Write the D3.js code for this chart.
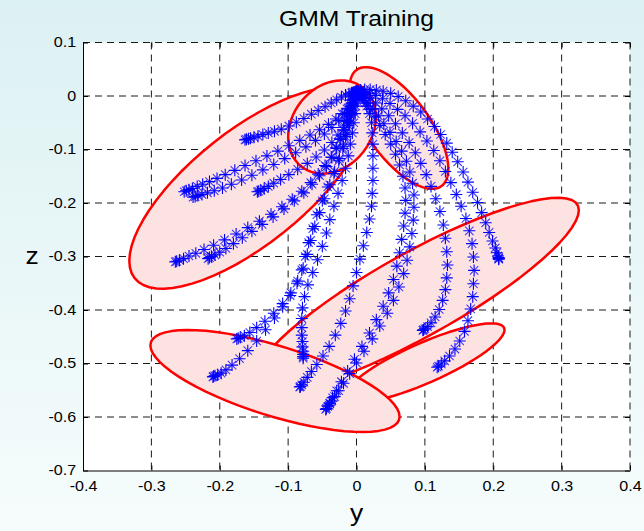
<!DOCTYPE html>
<html>
<head>
<meta charset="utf-8">
<script src="https://cdn.jsdelivr.net/npm/d3@7"></script>
<style>
  html, body { margin: 0; padding: 0; }
  svg { display: block; }
</style>
</head>
<body>
<svg id="chart" width="644" height="531"></svg>
<script>
// ---- axis ticks ----
const yTicks = [-0.4, -0.3, -0.2, -0.1, 0, 0.1, 0.2, 0.3, 0.4];
const yTickLabels = ["-0.4", "-0.3", "-0.2", "-0.1", "0", "0.1", "0.2", "0.3", "0.4"];
const zTicks = [0.1, 0, -0.1, -0.2, -0.3, -0.4, -0.5, -0.6, -0.7];
const zTickLabels = ["0.1", "0", "-0.1", "-0.2", "-0.3", "-0.4", "-0.5", "-0.6", "-0.7"];

// ---- GMM components: means and covariances (y, z) ----
const compY   = [-0.1587, 0.0622, -0.0358, 0.0995, 0.0870, -0.1192];
const compZ   = [-0.1720, -0.0598, -0.0580, -0.4990, -0.3720, -0.5327];
const sigmaYY = [0.03012, 0.005202, 0.004115, 0.013688, 0.05673, 0.03321];
const sigmaZZ = [0.03542, 0.012964, 0.007600, 0.005473, 0.03306, 0.009088];
const sigmaYZ = [0.02364, -0.005499, 0.001181, 0.007233, 0.03774, -0.012127];

// ---- demonstration trajectories (y, z) ----
const trajL1 = [[-0.002,0.008],[-0.004,0.007],[-0.007,0.006],[-0.011,0.004],[-0.016,0.002],[-0.022,-0.002],[-0.029,-0.007],[-0.037,-0.013],[-0.046,-0.020],[-0.056,-0.027],[-0.066,-0.034],[-0.077,-0.042],[-0.088,-0.049],[-0.099,-0.056],[-0.110,-0.062],[-0.120,-0.066],[-0.129,-0.069],[-0.137,-0.072],[-0.144,-0.075],[-0.150,-0.077],[-0.155,-0.079],[-0.158,-0.080],[-0.161,-0.081],[-0.163,-0.082]];
const trajL2 = [[-0.001,0.008],[-0.002,0.006],[-0.003,0.003],[-0.004,-0.001],[-0.006,-0.007],[-0.009,-0.015],[-0.014,-0.024],[-0.021,-0.033],[-0.030,-0.043],[-0.041,-0.053],[-0.054,-0.063],[-0.068,-0.073],[-0.083,-0.083],[-0.099,-0.093],[-0.115,-0.103],[-0.131,-0.112],[-0.147,-0.121],[-0.163,-0.130],[-0.178,-0.139],[-0.192,-0.147],[-0.204,-0.154],[-0.215,-0.160],[-0.225,-0.165],[-0.233,-0.169],[-0.240,-0.173],[-0.245,-0.175],[-0.249,-0.177],[-0.252,-0.179]];
const trajL3 = [[0.000,0.008],[-0.001,0.005],[-0.002,0.001],[-0.004,-0.005],[-0.007,-0.013],[-0.012,-0.023],[-0.018,-0.034],[-0.026,-0.046],[-0.036,-0.059],[-0.047,-0.071],[-0.060,-0.083],[-0.074,-0.095],[-0.089,-0.106],[-0.105,-0.117],[-0.121,-0.128],[-0.137,-0.138],[-0.153,-0.148],[-0.168,-0.157],[-0.183,-0.165],[-0.196,-0.172],[-0.208,-0.177],[-0.218,-0.181],[-0.226,-0.184],[-0.232,-0.186],[-0.236,-0.188],[-0.239,-0.189]];
const trajL4 = [[0.001,0.007],[0.000,0.004],[-0.001,-0.001],[-0.003,-0.009],[-0.005,-0.019],[-0.008,-0.031],[-0.013,-0.045],[-0.019,-0.059],[-0.027,-0.073],[-0.036,-0.087],[-0.047,-0.101],[-0.059,-0.114],[-0.072,-0.126],[-0.086,-0.137],[-0.099,-0.147],[-0.111,-0.156],[-0.121,-0.163],[-0.129,-0.169],[-0.135,-0.173],[-0.140,-0.176],[-0.143,-0.178],[-0.145,-0.179]];
const trajL5 = [[-0.001,0.008],[-0.002,0.005],[-0.003,0.000],[-0.005,-0.008],[-0.008,-0.019],[-0.011,-0.032],[-0.015,-0.047],[-0.019,-0.063],[-0.024,-0.080],[-0.030,-0.097],[-0.037,-0.114],[-0.046,-0.130],[-0.056,-0.146],[-0.067,-0.162],[-0.080,-0.178],[-0.094,-0.193],[-0.109,-0.207],[-0.125,-0.221],[-0.142,-0.234],[-0.159,-0.246],[-0.176,-0.258],[-0.193,-0.269],[-0.209,-0.279],[-0.223,-0.287],[-0.235,-0.294],[-0.245,-0.299],[-0.253,-0.304],[-0.259,-0.307],[-0.263,-0.309],[-0.265,-0.310]];
const trajL6 = [[0.000,0.007],[-0.001,0.004],[-0.002,-0.001],[-0.004,-0.009],[-0.007,-0.020],[-0.010,-0.033],[-0.014,-0.048],[-0.018,-0.064],[-0.023,-0.081],[-0.029,-0.098],[-0.036,-0.115],[-0.044,-0.132],[-0.054,-0.149],[-0.065,-0.165],[-0.077,-0.181],[-0.091,-0.196],[-0.106,-0.211],[-0.122,-0.226],[-0.138,-0.240],[-0.153,-0.253],[-0.167,-0.265],[-0.180,-0.276],[-0.191,-0.285],[-0.200,-0.292],[-0.207,-0.297],[-0.212,-0.300],[-0.215,-0.302],[-0.217,-0.304]];
const trajC1 = [[-0.001,0.008],[-0.002,0.005],[-0.003,0.000],[-0.004,-0.008],[-0.006,-0.020],[-0.009,-0.036],[-0.012,-0.055],[-0.016,-0.076],[-0.020,-0.098],[-0.026,-0.121],[-0.033,-0.145],[-0.042,-0.170],[-0.050,-0.196],[-0.058,-0.222],[-0.064,-0.248],[-0.070,-0.274],[-0.075,-0.300],[-0.080,-0.325],[-0.087,-0.350],[-0.097,-0.373],[-0.108,-0.394],[-0.120,-0.415],[-0.133,-0.437],[-0.146,-0.458],[-0.159,-0.476],[-0.171,-0.491],[-0.182,-0.503],[-0.191,-0.512],[-0.198,-0.518],[-0.203,-0.521],[-0.207,-0.523],[-0.209,-0.524],[-0.210,-0.525]];
const trajC2 = [[0.000,0.008],[-0.001,0.005],[-0.002,0.000],[-0.003,-0.008],[-0.005,-0.019],[-0.007,-0.034],[-0.010,-0.052],[-0.014,-0.072],[-0.019,-0.094],[-0.025,-0.117],[-0.032,-0.141],[-0.039,-0.166],[-0.047,-0.192],[-0.054,-0.218],[-0.061,-0.244],[-0.067,-0.270],[-0.072,-0.296],[-0.078,-0.322],[-0.086,-0.346],[-0.096,-0.368],[-0.108,-0.388],[-0.121,-0.406],[-0.134,-0.421],[-0.146,-0.433],[-0.156,-0.442],[-0.164,-0.448],[-0.170,-0.451],[-0.173,-0.453],[-0.175,-0.454]];
const trajC3 = [[0.001,0.008],[0.001,0.005],[0.000,0.000],[0.000,-0.008],[-0.001,-0.019],[-0.002,-0.033],[-0.004,-0.050],[-0.006,-0.069],[-0.009,-0.090],[-0.012,-0.112],[-0.016,-0.135],[-0.021,-0.158],[-0.027,-0.182],[-0.033,-0.206],[-0.039,-0.231],[-0.044,-0.256],[-0.050,-0.281],[-0.057,-0.306],[-0.064,-0.330],[-0.071,-0.353],[-0.076,-0.375],[-0.079,-0.396],[-0.080,-0.416],[-0.080,-0.433],[-0.080,-0.447],[-0.079,-0.459],[-0.079,-0.469],[-0.078,-0.477],[-0.078,-0.483],[-0.078,-0.487],[-0.078,-0.490]];
const trajC4 = [[0.002,0.008],[0.004,0.005],[0.007,0.000],[0.011,-0.008],[0.015,-0.019],[0.019,-0.033],[0.022,-0.050],[0.023,-0.069],[0.024,-0.090],[0.024,-0.112],[0.024,-0.135],[0.024,-0.158],[0.023,-0.182],[0.022,-0.206],[0.019,-0.230],[0.015,-0.255],[0.010,-0.280],[0.005,-0.305],[0.000,-0.330],[-0.005,-0.355],[-0.010,-0.379],[-0.016,-0.402],[-0.023,-0.425],[-0.031,-0.447],[-0.040,-0.468],[-0.049,-0.486],[-0.058,-0.502],[-0.066,-0.515],[-0.072,-0.526],[-0.077,-0.535],[-0.080,-0.540],[-0.082,-0.543],[-0.083,-0.544]];
const trajC5 = [[0.000,0.008],[0.002,0.006],[0.005,0.002],[0.009,-0.004],[0.014,-0.013],[0.020,-0.025],[0.027,-0.039],[0.034,-0.055],[0.042,-0.072],[0.050,-0.090],[0.057,-0.109],[0.063,-0.129],[0.068,-0.150],[0.071,-0.172],[0.072,-0.195],[0.071,-0.219],[0.069,-0.243],[0.066,-0.268],[0.063,-0.293],[0.059,-0.318],[0.054,-0.343],[0.047,-0.368],[0.039,-0.393],[0.029,-0.418],[0.019,-0.443],[0.008,-0.468],[-0.003,-0.492],[-0.013,-0.514],[-0.022,-0.534],[-0.029,-0.551],[-0.035,-0.564],[-0.039,-0.574],[-0.042,-0.580],[-0.044,-0.584],[-0.045,-0.586]];
const trajC6 = [[0.001,0.008],[0.003,0.006],[0.006,0.002],[0.011,-0.004],[0.017,-0.013],[0.024,-0.024],[0.032,-0.037],[0.040,-0.052],[0.049,-0.068],[0.058,-0.085],[0.066,-0.103],[0.073,-0.122],[0.078,-0.142],[0.082,-0.163],[0.084,-0.185],[0.084,-0.208],[0.083,-0.232],[0.081,-0.257],[0.078,-0.282],[0.074,-0.307],[0.069,-0.332],[0.062,-0.357],[0.054,-0.382],[0.045,-0.406],[0.034,-0.430],[0.023,-0.454],[0.011,-0.477],[0.000,-0.499],[-0.010,-0.519],[-0.019,-0.537],[-0.026,-0.551],[-0.032,-0.562],[-0.036,-0.570],[-0.039,-0.575],[-0.040,-0.578]];
const trajR1 = [[0.000,0.009],[0.003,0.008],[0.007,0.006],[0.013,0.002],[0.020,-0.004],[0.028,-0.013],[0.037,-0.024],[0.047,-0.037],[0.057,-0.052],[0.067,-0.069],[0.077,-0.087],[0.086,-0.106],[0.094,-0.126],[0.102,-0.147],[0.109,-0.169],[0.116,-0.192],[0.122,-0.216],[0.127,-0.241],[0.130,-0.266],[0.132,-0.291],[0.133,-0.316],[0.132,-0.340],[0.130,-0.362],[0.126,-0.382],[0.121,-0.399],[0.115,-0.413],[0.109,-0.424],[0.104,-0.431],[0.100,-0.435],[0.098,-0.437],[0.097,-0.438]];
const trajR2 = [[0.001,0.009],[0.005,0.009],[0.011,0.008],[0.019,0.005],[0.028,0.001],[0.038,-0.005],[0.049,-0.014],[0.060,-0.025],[0.071,-0.037],[0.082,-0.051],[0.093,-0.067],[0.103,-0.084],[0.113,-0.102],[0.122,-0.121],[0.130,-0.141],[0.138,-0.162],[0.146,-0.184],[0.153,-0.206],[0.160,-0.229],[0.165,-0.252],[0.169,-0.276],[0.171,-0.301],[0.172,-0.326],[0.171,-0.351],[0.170,-0.375],[0.167,-0.398],[0.163,-0.420],[0.158,-0.440],[0.151,-0.458],[0.144,-0.473],[0.136,-0.486],[0.129,-0.495],[0.124,-0.501],[0.120,-0.505],[0.118,-0.507]];
const trajR3 = [[0.002,0.010],[0.006,0.011],[0.012,0.012],[0.020,0.012],[0.029,0.011],[0.039,0.009],[0.050,0.005],[0.061,-0.001],[0.072,-0.009],[0.083,-0.019],[0.094,-0.030],[0.104,-0.043],[0.114,-0.057],[0.123,-0.072],[0.132,-0.088],[0.140,-0.105],[0.148,-0.123],[0.156,-0.142],[0.163,-0.161],[0.170,-0.180],[0.177,-0.199],[0.183,-0.218],[0.189,-0.237],[0.194,-0.255],[0.199,-0.271],[0.203,-0.284],[0.205,-0.293],[0.207,-0.299],[0.208,-0.302],[0.208,-0.304],[0.208,-0.305]];

const trajectories = [trajL1, trajL2, trajL3, trajL4, trajL5, trajL6,
                      trajC1, trajC2, trajC3, trajC4, trajC5, trajC6,
                      trajR1, trajR2, trajR3];

// ---- layout ----
const W = 644, H = 531;
const plotL = 83, plotR = 630, plotT = 42.5, plotB = 470.5;
const FONT = "'Liberation Sans', Arial, Helvetica, sans-serif";
const STRETCH = "scale(1.15,1)";

const svg = d3.select("#chart");

// slide-style background
const defs = svg.append("defs");
const grad = defs.append("linearGradient").attr("id", "bg").attr("x1", 0).attr("y1", 0).attr("x2", 0).attr("y2", 1);
grad.append("stop").attr("offset", "0%").attr("stop-color", "#dcf1f3");
grad.append("stop").attr("offset", "100%").attr("stop-color", "#f6fcfc");
svg.append("rect").attr("width", W).attr("height", H).attr("fill", "url(#bg)");

const x = d3.scaleLinear().domain([-0.4, 0.4]).range([plotL, plotR]);
const z = d3.scaleLinear().domain([-0.7, 0.1]).range([plotB, plotT]);

// plot area
svg.append("rect")
  .attr("x", plotL).attr("y", plotT)
  .attr("width", plotR - plotL).attr("height", plotB - plotT)
  .attr("fill", "#ffffff");

// dashed grid (also forms the top and right edges of the box)
const grid = svg.append("g").attr("stroke", "#1a1a1a").attr("stroke-width", 1)
  .attr("stroke-dasharray", "7,5").attr("fill", "none");
grid.selectAll("line.gx").data(yTicks.filter(d => d !== -0.4)).join("line")
  .attr("class", "gx")
  .attr("x1", d => x(d)).attr("x2", d => x(d))
  .attr("y1", plotT).attr("y2", plotB);
grid.selectAll("line.gz").data(zTicks.filter(d => d !== -0.7)).join("line")
  .attr("class", "gz")
  .attr("y1", d => z(d)).attr("y2", d => z(d))
  .attr("x1", plotL).attr("x2", plotR);

// covariance ellipses of the mixture components
function ellipsePoints(i) {
  const a = sigmaYY[i], b = sigmaYZ[i], c = sigmaZZ[i];
  const l11 = Math.sqrt(a), l21 = b / l11, l22 = Math.sqrt(c - l21 * l21);
  const n = 64;
  return d3.range(n).map(k => {
    const t = 2 * Math.PI * k / n;
    const u = Math.cos(t), v = Math.sin(t);
    return [compY[i] + l11 * u, compZ[i] + l21 * u + l22 * v];
  });
}
const ellLine = d3.line().x(d => x(d[0])).y(d => z(d[1])).curve(d3.curveLinearClosed);
svg.append("g").selectAll("path").data(d3.range(compY.length)).join("path")
  .attr("d", i => ellLine(ellipsePoints(i)))
  .attr("fill", "#fde2e2")
  .attr("stroke", "#ff0000")
  .attr("stroke-width", 2.5)
  .attr("stroke-linejoin", "round");

// asterisk markers ('+' arms plus lighter diagonal arms) for every sample
const plusArms = "M-6,0H6M0,-6V6";
const diagArms = "M-4.2,-4.2L4.2,4.2M-4.2,4.2L4.2,-4.2";
const pts = svg.append("g").attr("fill", "none").attr("stroke", "#0000ff").attr("stroke-width", 1.1);
trajectories.forEach(tr => {
  const g = pts.append("g").selectAll("g").data(tr).join("g")
    .attr("transform", d => `translate(${x(d[0])},${z(d[1])})`);
  g.append("path").attr("d", diagArms).attr("stroke-opacity", 0.75);
  g.append("path").attr("d", plusArms);
});

// axes
function styleAxis(g) {
  g.attr("font-family", FONT).attr("font-size", 14).attr("color", "#000");
  g.selectAll(".tick line").attr("stroke", "#000");
}
const axB = svg.append("g").attr("transform", `translate(0,${plotB})`)
  .call(d3.axisBottom(x).tickValues(yTicks).tickFormat((d, i) => yTickLabels[i])
        .tickSizeInner(-5).tickSizeOuter(0).tickPadding(11))
  .call(styleAxis);
axB.selectAll("text").attr("transform", STRETCH);

const axL = svg.append("g").attr("transform", `translate(${plotL},0)`)
  .call(d3.axisLeft(z).tickValues(zTicks).tickFormat((d, i) => zTickLabels[i])
        .tickSizeInner(-5).tickSizeOuter(0).tickPadding(6))
  .call(styleAxis);
axL.selectAll("text").attr("transform", STRETCH);

const axT = svg.append("g").attr("transform", `translate(0,${plotT})`)
  .call(d3.axisTop(x).tickValues(yTicks).tickFormat("").tickSizeInner(-5).tickSizeOuter(0))
  .call(styleAxis);
axT.select(".domain").remove();
const axR = svg.append("g").attr("transform", `translate(${plotR},0)`)
  .call(d3.axisRight(z).tickValues(zTicks).tickFormat("").tickSizeInner(-5).tickSizeOuter(0))
  .call(styleAxis);
axR.select(".domain").remove();

// title and axis labels
svg.append("text")
  .attr("transform", `translate(${(plotL + plotR) / 2},26) ${STRETCH}`)
  .attr("text-anchor", "middle").attr("font-family", FONT).attr("font-size", 21.5)
  .attr("fill", "#000").text("GMM Training");
svg.append("text")
  .attr("transform", `translate(${(plotL + plotR) / 2},521) ${STRETCH}`)
  .attr("text-anchor", "middle").attr("font-family", FONT).attr("font-size", 23)
  .attr("fill", "#000").text("y");
svg.append("text")
  .attr("transform", `translate(32,264) ${STRETCH}`)
  .attr("text-anchor", "middle").attr("font-family", FONT).attr("font-size", 23)
  .attr("fill", "#000").text("z");
</script>
</body>
</html>
